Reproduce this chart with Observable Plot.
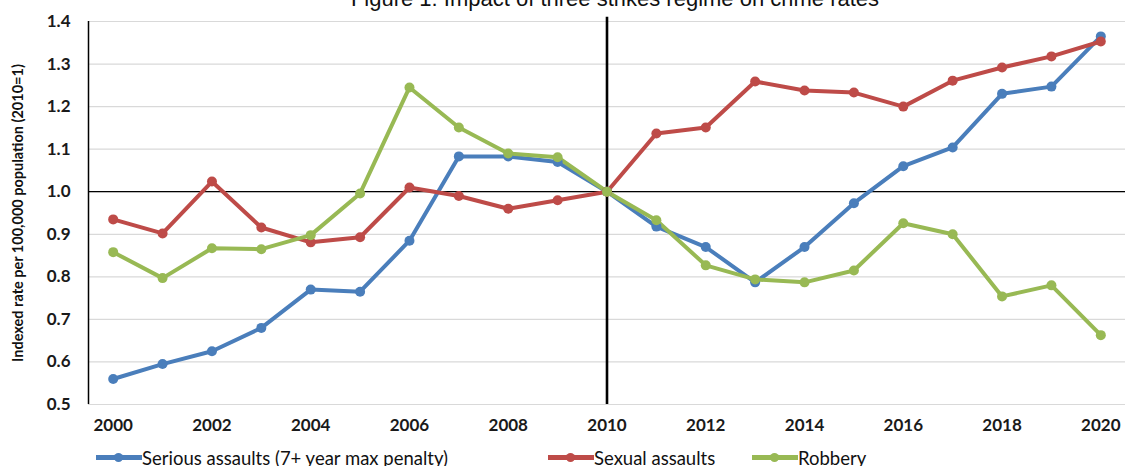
<!DOCTYPE html>
<html>
<head>
<meta charset="utf-8">
<script src="https://cdn.jsdelivr.net/npm/d3@7"></script>
<script src="https://cdn.jsdelivr.net/npm/@observablehq/plot@0.6"></script>
<style>
  html, body { margin: 0; padding: 0; background: #fff; overflow: hidden; }
  #wrap { position: relative; width: 1125px; height: 466px; overflow: hidden; }
  #title { position: absolute; left: 0; width: 1230px; text-align: center; top: -14px;
    font-family: "Liberation Sans", Arial, sans-serif; font-size: 22px; line-height: 26px; color: #111; }
  #legend { position: absolute; top: 446px; left: 0; width: 1125px; height: 30px;
    font-family: Lato, sans-serif; font-size: 18.5px; color: #111; }
  .item { position: absolute; display: flex; align-items: center; white-space: nowrap; }
  .sw { position: relative; width: 46px; height: 24px; }
  .sw .ln { position: absolute; left: 0; right: 0; top: 9px; height: 5px; }
  .sw .dt { position: absolute; left: 18px; top: 7px; width: 9px; height: 9px; border-radius: 50%; }
</style>
</head>
<body>
<div id="wrap">
  <div id="title">Figure 1: Impact of three strikes regime on crime rates</div>
  <div id="chart"></div>
  <div id="legend"></div>
</div>
<script>
const years = [2000,2001,2002,2003,2004,2005,2006,2007,2008,2009,2010,2011,2012,2013,2014,2015,2016,2017,2018,2019,2020];
const seriousAssaults = [0.56,0.595,0.625,0.68,0.77,0.765,0.885,1.083,1.083,1.07,1.0,0.918,0.87,0.787,0.87,0.973,1.06,1.104,1.23,1.247,1.365];
const sexualAssaults = [0.935,0.902,1.024,0.916,0.881,0.893,1.01,0.99,0.96,0.98,1.0,1.137,1.151,1.259,1.238,1.233,1.2,1.261,1.292,1.318,1.353];
const robbery = [0.858,0.797,0.867,0.865,0.898,0.996,1.245,1.151,1.09,1.081,1.0,0.933,0.827,0.794,0.787,0.815,0.926,0.9,0.754,0.78,0.663];
const seriesNames = ["Serious assaults (7+ year max penalty)", "Sexual assaults", "Robbery"];
const seriesColors = ["#4a7ebb", "#be4b48", "#98b954"];
const yTicks = [0.5,0.6,0.7,0.8,0.9,1.0,1.1,1.2,1.3,1.4];
const xTicks = [2000,2002,2004,2006,2008,2010,2012,2014,2016,2018,2020];
const yLabel = "Indexed rate per 100,000 population (2010=1)";

const allValues = [seriousAssaults, sexualAssaults, robbery];
const data = [];
allValues.forEach((vals, si) => vals.forEach((v, i) => data.push({year: years[i], value: v, series: seriesNames[si]})));

const plot = Plot.plot({
  width: 1125,
  height: 466,
  marginLeft: 88,
  marginRight: 0,
  marginTop: 21,
  marginBottom: 62,
  style: { fontFamily: "Lato, sans-serif", background: "#fff", overflow: "visible" },
  x: { domain: [1999.5, 2020.5] },
  y: { domain: [0.5, 1.4] },
  color: { domain: seriesNames, range: seriesColors },
  marks: [
    Plot.gridY(yTicks, { stroke: "#d9d9d9", strokeOpacity: 1, strokeWidth: 1.2 }),
    Plot.ruleY([1.0], { stroke: "#000", strokeWidth: 1.3 }),
    Plot.ruleX([1999.5], { y1: 0.5, y2: 1.4, stroke: "#000", strokeWidth: 1.5 }),
    Plot.ruleX([2010], { y1: 0.5, y2: 1.41, stroke: "#000", strokeWidth: 2.6, clip: false }),
    Plot.axisY(yTicks, { tickSize: 0, tickPadding: 18, tickFormat: d3.format(".1f"), fontSize: 17, fontWeight: "bold", fill: "#1a1a1a", label: null }),
    Plot.axisX(xTicks, { tickSize: 0, tickPadding: 14, tickFormat: d => String(d), fontSize: 17, fontWeight: "bold", fill: "#1a1a1a", label: null }),
    Plot.text([yLabel], { frameAnchor: "left", textAnchor: "middle", dx: -70, rotate: -90, fontSize: 14.5, fontWeight: "bold", fill: "#111" }),
    Plot.line(data, { x: "year", y: "value", z: "series", stroke: "series", strokeWidth: 4, strokeLinejoin: "round" }),
    Plot.dot(data, { x: "year", y: "value", fill: "series", r: 5 })
  ]
});
document.getElementById("chart").appendChild(plot);

const legend = document.getElementById("legend");
const legendX = [96, 548, 752];
seriesNames.forEach((name, i) => {
  const it = document.createElement("div");
  it.className = "item";
  it.style.left = legendX[i] + "px";
  it.innerHTML = `<div class="sw"><div class="ln" style="background:${seriesColors[i]}"></div><div class="dt" style="background:${seriesColors[i]}"></div></div><span>${name}</span>`;
  legend.appendChild(it);
});
</script>
</body>
</html>
